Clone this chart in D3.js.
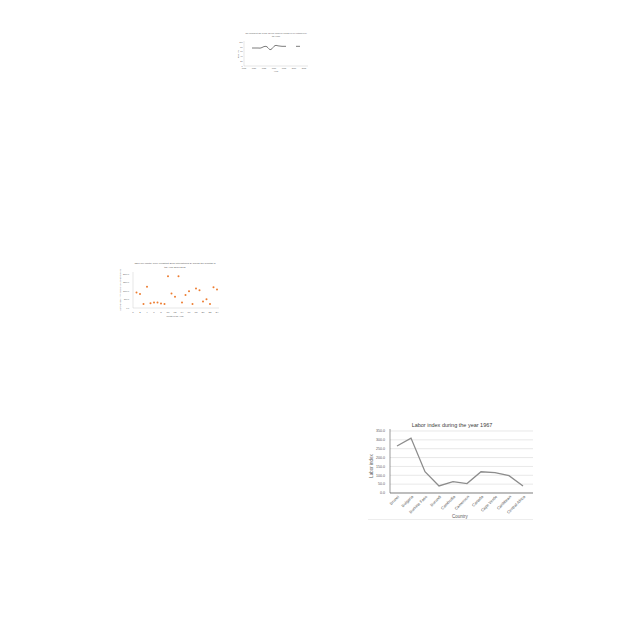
<!DOCTYPE html>
<html><head><meta charset="utf-8">
<script src="https://cdn.jsdelivr.net/npm/d3@7"></script>
<style>body{margin:0;background:#fff}svg{display:block}text{font-family:"Liberation Sans",Arial,sans-serif}</style>
</head><body>
<svg id="c" width="640" height="640"></svg>
<script>
// Chart 1 data (line with gap)
const c1Years = [1979,1980,1981,1982,1983,1984,1985,1986,1987,1988,1989,1990,1991,1992,1993,1994,1995,1996,1997,1998,1999,2000,2001,2002,2003];
const c1Values = [75,75,75,75,74.5,77,81,82,76,68,72,82,86,84,83,82,82,82,null,null,null,null,82,82,82];
const c1XTicks = [1975,1980,1985,1990,1995,2000,2005];
const c1YTicks = [0,20,40,60,80,100];

// Chart 2 data (scatter)
const c2Months = [1,2,3,4,5,6,7,8,9,10,11,12,13,14,15,16,17,18,19,20,21,22,23,24];
const c2Values = [914,817,228,1257,285,323,323,266,228,1866,857,666,1866,323,762,990,228,1143,1047,381,514,228,1219,1086];
const c2XTicks = [0,2,4,6,8,10,12,14,16,18,20,22,24];
const c2YTicks = [0,500,1000,1500,2000];

// Chart 3 data (line)
const c3Countries = ["Brunei","Bulgaria","Burkina Faso","Burundi","Cambodia","Cameroon","Canada","Cape Verde","Caribbean","Central Africa"];
const c3Values = [265,310,120,40,64,53,120,115,98,40];
const c3YTicks = [0,50,100,150,200,250,300,350];

const svg = d3.select("#c");
const txt = "#595959";

// ---------- Chart 1 ----------
{
  const g = svg.append("g");
  const x = d3.scaleLinear().domain([1975,2007]).range([244,308]);
  const y = d3.scaleLinear().domain([0,100]).range([66,42]);
  g.append("text").attr("x",276).attr("y",34).attr("text-anchor","middle").attr("font-size",1.95).attr("fill",txt)
    .text("Net enrolment rate of age 12 year (male)(SAMPLE)(%) of Vietnam over");
  g.append("text").attr("x",276).attr("y",37).attr("text-anchor","middle").attr("font-size",1.95).attr("fill",txt)
    .text("the years");
  c1YTicks.forEach(t=>{
    g.append("text").attr("x",242.5).attr("y",y(t)+0.7).attr("text-anchor","end").attr("font-size",2).attr("fill",txt).text(t);
  });
  c1XTicks.forEach(t=>{
    g.append("text").attr("x",x(t)).attr("y",69).attr("text-anchor","middle").attr("font-size",2).attr("fill",txt).text(t);
  });
  g.append("line").attr("x1",244).attr("x2",244).attr("y1",41).attr("y2",66).attr("stroke","#bfbfbf").attr("stroke-width",0.4);
  g.append("line").attr("x1",244).attr("x2",308).attr("y1",66).attr("y2",66).attr("stroke","#bfbfbf").attr("stroke-width",0.4);
  g.append("text").attr("x",276).attr("y",71.5).attr("text-anchor","middle").attr("font-size",2.2).attr("fill",txt).text("Year");
  g.append("text").attr("transform","translate(238.5,54) rotate(-90)").attr("text-anchor","middle").attr("font-size",2.2).attr("fill",txt).text("Rate (%)");
  const data = c1Years.map((yr,i)=>({x:yr,v:c1Values[i]}));
  const line = d3.line().defined(d=>d.v!=null).x(d=>x(d.x)).y(d=>y(d.v)).curve(d3.curveMonotoneX);
  g.append("path").attr("d",line(data)).attr("fill","none").attr("stroke","#505050").attr("stroke-width",0.75);
}

// ---------- Chart 2 ----------
{
  const g = svg.append("g");
  const x = d3.scaleLinear().domain([0,24]).range([133,217]);
  const y = d3.scaleLinear().domain([0,2000]).range([308,274]);
  g.append("text").attr("x",175).attr("y",264).attr("text-anchor","middle").attr("font-size",2.5).attr("fill",txt)
    .text("GDP per capita, PPP (constant 2011 international $) during the months of");
  g.append("text").attr("x",175).attr("y",268).attr("text-anchor","middle").attr("font-size",2.5).attr("fill",txt)
    .text("the year 2010-2011");
  c2YTicks.forEach(t=>{
    g.append("text").attr("x",129).attr("y",y(t)+0.7).attr("text-anchor","end").attr("font-size",2).attr("fill",txt).text(d3.format(".1f")(t));
  });
  c2XTicks.forEach(t=>{
    g.append("text").attr("x",x(t)).attr("y",312.5).attr("text-anchor","middle").attr("font-size",2.5).attr("fill",txt).text(t);
  });
  g.append("line").attr("x1",133).attr("x2",133).attr("y1",272).attr("y2",308).attr("stroke","#bfbfbf").attr("stroke-width",0.4);
  g.append("line").attr("x1",133).attr("x2",219).attr("y1",308).attr("y2",308).attr("stroke","#bfbfbf").attr("stroke-width",0.4);
  g.append("text").attr("x",175).attr("y",317).attr("text-anchor","middle").attr("font-size",2.2).attr("fill",txt).text("Month of the Year");
  g.append("text").attr("transform","translate(121,290) rotate(-90)").attr("text-anchor","middle").attr("font-size",1.8).attr("fill",txt)
    .text("GDP per capita, PPP (constant 2011 international $)");
  g.selectAll("circle").data(c2Months).join("circle")
    .attr("cx",d=>x(d)).attr("cy",(d,i)=>y(c2Values[i])).attr("r",1).attr("fill","#ed7d31");
}

// ---------- Chart 3 ----------
{
  const g = svg.append("g");
  const x = d3.scalePoint().domain(c3Countries).range([390,530]).padding(0.5);
  const y = d3.scaleLinear().domain([0,350]).range([493,431]);
  c3YTicks.forEach(t=>{
    g.append("line").attr("x1",390).attr("x2",533).attr("y1",y(t)).attr("y2",y(t)).attr("stroke","#d9d9d9").attr("stroke-width",0.6);
    g.append("text").attr("x",385).attr("y",y(t)+1.3).attr("text-anchor","end").attr("font-size",3.6).attr("fill",txt).text(d3.format(".1f")(t));
  });
  g.append("line").attr("x1",390).attr("x2",390).attr("y1",429).attr("y2",493).attr("stroke","#595959").attr("stroke-width",0.6);
  g.append("line").attr("x1",390).attr("x2",533).attr("y1",493).attr("y2",493).attr("stroke","#595959").attr("stroke-width",0.7);
  c3Countries.forEach(c=>{
    g.append("text").attr("transform",`translate(${x(c)+2.5},497) rotate(-45)`).attr("text-anchor","end").attr("font-size",4).attr("fill",txt).text(c);
  });
  g.append("text").attr("x",452).attr("y",427).attr("text-anchor","middle").attr("font-size",5.5).attr("fill","#404040").text("Labor index during the year 1967");
  g.append("text").attr("x",460).attr("y",518).attr("text-anchor","middle").attr("font-size",4.5).attr("fill",txt).text("Country");
  g.append("text").attr("transform","translate(372.5,466) rotate(-90)").attr("text-anchor","middle").attr("font-size",4.5).attr("fill",txt).text("Labor index");
  const line = d3.line().x((d,i)=>x(c3Countries[i])).y(d=>y(d));
  g.append("path").attr("d",line(c3Values)).attr("fill","none").attr("stroke","#8c8c8c").attr("stroke-width",1.3);
  g.append("line").attr("x1",368).attr("x2",533).attr("y1",519.5).attr("y2",519.5).attr("stroke","#e0e0e0").attr("stroke-width",0.6);
}
</script>
</body></html>
